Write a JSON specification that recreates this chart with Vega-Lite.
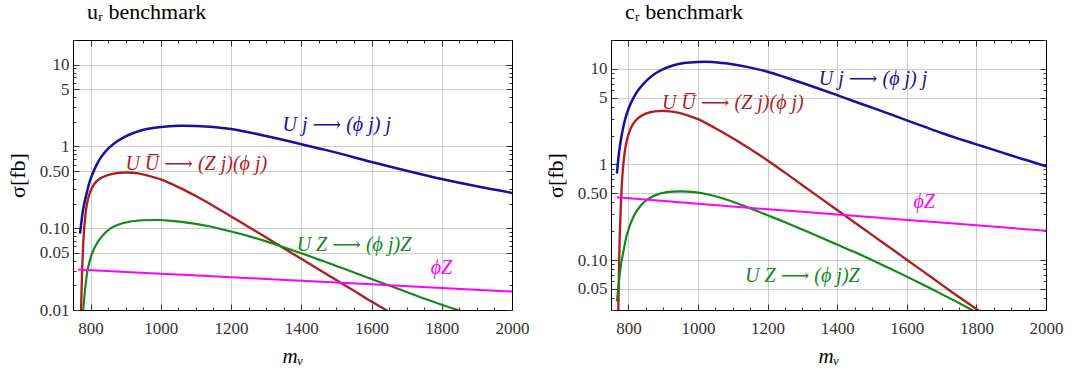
{
  "$schema": "https://vega.github.io/schema/vega-lite/v6.json",
  "padding": {"left": 5, "top": 0, "right": 5, "bottom": 5},
  "background": "white",
  "config": {
    "font": "Liberation Serif, DejaVu Serif, serif",
    "view": {"stroke": "#000", "strokeWidth": 1},
    "axis": {"domainColor": "#000", "tickColor": "#333", "labelColor": "#333", "labelFontSize": 17, "labelFont": "Liberation Serif, DejaVu Serif, serif", "titleFont": "Liberation Serif, DejaVu Serif, serif", "titleColor": "#000", "titleFontWeight": "normal", "gridColor": "#cccccc", "gridWidth": 1, "labelOverlap": false, "labelFlush": false}
  },
  "datasets": {
    "uR": [
      {"m": 770, "sigma": 0.086, "process": "Uj"}, {"m": 775, "sigma": 0.13, "process": "Uj"}, {"m": 780, "sigma": 0.18, "process": "Uj"}, {"m": 790, "sigma": 0.28, "process": "Uj"}, {"m": 800, "sigma": 0.4, "process": "Uj"}, {"m": 815, "sigma": 0.57, "process": "Uj"}, {"m": 830, "sigma": 0.74, "process": "Uj"}, {"m": 850, "sigma": 0.94, "process": "Uj"}, {"m": 875, "sigma": 1.15, "process": "Uj"}, {"m": 900, "sigma": 1.33, "process": "Uj"}, {"m": 930, "sigma": 1.5, "process": "Uj"}, {"m": 960, "sigma": 1.63, "process": "Uj"}, {"m": 1000, "sigma": 1.73, "process": "Uj"}, {"m": 1050, "sigma": 1.79, "process": "Uj"}, {"m": 1100, "sigma": 1.78, "process": "Uj"}, {"m": 1150, "sigma": 1.73, "process": "Uj"}, {"m": 1200, "sigma": 1.63, "process": "Uj"}, {"m": 1250, "sigma": 1.49, "process": "Uj"}, {"m": 1300, "sigma": 1.34, "process": "Uj"}, {"m": 1350, "sigma": 1.2, "process": "Uj"}, {"m": 1400, "sigma": 1.065, "process": "Uj"}, {"m": 1450, "sigma": 0.945, "process": "Uj"}, {"m": 1500, "sigma": 0.84, "process": "Uj"}, {"m": 1600, "sigma": 0.645, "process": "Uj"}, {"m": 1700, "sigma": 0.505, "process": "Uj"}, {"m": 1800, "sigma": 0.4, "process": "Uj"}, {"m": 1900, "sigma": 0.325, "process": "Uj"}, {"m": 2000, "sigma": 0.27, "process": "Uj"},
      {"m": 773, "sigma": 0.01, "process": "UU"}, {"m": 776, "sigma": 0.03, "process": "UU"}, {"m": 780, "sigma": 0.075, "process": "UU"}, {"m": 785, "sigma": 0.14, "process": "UU"}, {"m": 790, "sigma": 0.2, "process": "UU"}, {"m": 798, "sigma": 0.27, "process": "UU"}, {"m": 810, "sigma": 0.345, "process": "UU"}, {"m": 825, "sigma": 0.4, "process": "UU"}, {"m": 845, "sigma": 0.44, "process": "UU"}, {"m": 870, "sigma": 0.468, "process": "UU"}, {"m": 900, "sigma": 0.48, "process": "UU"}, {"m": 930, "sigma": 0.472, "process": "UU"}, {"m": 960, "sigma": 0.443, "process": "UU"}, {"m": 1000, "sigma": 0.395, "process": "UU"}, {"m": 1050, "sigma": 0.318, "process": "UU"}, {"m": 1100, "sigma": 0.247, "process": "UU"}, {"m": 1150, "sigma": 0.187, "process": "UU"}, {"m": 1200, "sigma": 0.1395, "process": "UU"}, {"m": 1250, "sigma": 0.1035, "process": "UU"}, {"m": 1300, "sigma": 0.0768, "process": "UU"}, {"m": 1350, "sigma": 0.0569, "process": "UU"}, {"m": 1400, "sigma": 0.0422, "process": "UU"}, {"m": 1450, "sigma": 0.0313, "process": "UU"}, {"m": 1500, "sigma": 0.0232, "process": "UU"}, {"m": 1550, "sigma": 0.0172, "process": "UU"}, {"m": 1600, "sigma": 0.0127, "process": "UU"}, {"m": 1645, "sigma": 0.0098, "process": "UU"},
      {"m": 779, "sigma": 0.01, "process": "UZ"}, {"m": 782, "sigma": 0.014, "process": "UZ"}, {"m": 786, "sigma": 0.0206, "process": "UZ"}, {"m": 790, "sigma": 0.028, "process": "UZ"}, {"m": 795, "sigma": 0.036, "process": "UZ"}, {"m": 802, "sigma": 0.046, "process": "UZ"}, {"m": 810, "sigma": 0.056, "process": "UZ"}, {"m": 820, "sigma": 0.067, "process": "UZ"}, {"m": 835, "sigma": 0.082, "process": "UZ"}, {"m": 855, "sigma": 0.098, "process": "UZ"}, {"m": 880, "sigma": 0.111, "process": "UZ"}, {"m": 910, "sigma": 0.12, "process": "UZ"}, {"m": 950, "sigma": 0.125, "process": "UZ"}, {"m": 990, "sigma": 0.126, "process": "UZ"}, {"m": 1030, "sigma": 0.123, "process": "UZ"}, {"m": 1080, "sigma": 0.116, "process": "UZ"}, {"m": 1130, "sigma": 0.107, "process": "UZ"}, {"m": 1200, "sigma": 0.091, "process": "UZ"}, {"m": 1250, "sigma": 0.08, "process": "UZ"}, {"m": 1300, "sigma": 0.069, "process": "UZ"}, {"m": 1350, "sigma": 0.0585, "process": "UZ"}, {"m": 1400, "sigma": 0.0493, "process": "UZ"}, {"m": 1450, "sigma": 0.0413, "process": "UZ"}, {"m": 1500, "sigma": 0.0346, "process": "UZ"}, {"m": 1550, "sigma": 0.0288, "process": "UZ"}, {"m": 1600, "sigma": 0.024, "process": "UZ"}, {"m": 1650, "sigma": 0.0199, "process": "UZ"}, {"m": 1700, "sigma": 0.0166, "process": "UZ"}, {"m": 1750, "sigma": 0.0138, "process": "UZ"}, {"m": 1800, "sigma": 0.0116, "process": "UZ"}, {"m": 1855, "sigma": 0.0097, "process": "UZ"},
      {"m": 765, "sigma": 0.0313, "process": "phiZ"}, {"m": 1000, "sigma": 0.0278, "process": "phiZ"}, {"m": 1200, "sigma": 0.0252, "process": "phiZ"}, {"m": 1400, "sigma": 0.0228, "process": "phiZ"}, {"m": 1600, "sigma": 0.0206, "process": "phiZ"}, {"m": 1800, "sigma": 0.0186, "process": "phiZ"}, {"m": 2000, "sigma": 0.0168, "process": "phiZ"}
    ],
    "cR": [
      {"m": 767, "sigma": 0.8, "process": "Uj"}, {"m": 770, "sigma": 1.05, "process": "Uj"}, {"m": 775, "sigma": 1.5, "process": "Uj"}, {"m": 780, "sigma": 1.95, "process": "Uj"}, {"m": 790, "sigma": 2.9, "process": "Uj"}, {"m": 800, "sigma": 3.8, "process": "Uj"}, {"m": 815, "sigma": 5.0, "process": "Uj"}, {"m": 830, "sigma": 6.1, "process": "Uj"}, {"m": 850, "sigma": 7.4, "process": "Uj"}, {"m": 875, "sigma": 8.8, "process": "Uj"}, {"m": 900, "sigma": 9.9, "process": "Uj"}, {"m": 930, "sigma": 10.9, "process": "Uj"}, {"m": 960, "sigma": 11.5, "process": "Uj"}, {"m": 1000, "sigma": 11.8, "process": "Uj"}, {"m": 1040, "sigma": 11.8, "process": "Uj"}, {"m": 1080, "sigma": 11.4, "process": "Uj"}, {"m": 1120, "sigma": 10.8, "process": "Uj"}, {"m": 1160, "sigma": 10.1, "process": "Uj"}, {"m": 1200, "sigma": 9.3, "process": "Uj"}, {"m": 1250, "sigma": 8.15, "process": "Uj"}, {"m": 1300, "sigma": 7.1, "process": "Uj"}, {"m": 1350, "sigma": 6.15, "process": "Uj"}, {"m": 1400, "sigma": 5.3, "process": "Uj"}, {"m": 1450, "sigma": 4.55, "process": "Uj"}, {"m": 1500, "sigma": 3.92, "process": "Uj"}, {"m": 1550, "sigma": 3.37, "process": "Uj"}, {"m": 1600, "sigma": 2.89, "process": "Uj"}, {"m": 1650, "sigma": 2.48, "process": "Uj"}, {"m": 1700, "sigma": 2.13, "process": "Uj"}, {"m": 1750, "sigma": 1.85, "process": "Uj"}, {"m": 1800, "sigma": 1.62, "process": "Uj"}, {"m": 1850, "sigma": 1.42, "process": "Uj"}, {"m": 1900, "sigma": 1.24, "process": "Uj"}, {"m": 1950, "sigma": 1.09, "process": "Uj"}, {"m": 2000, "sigma": 0.957, "process": "Uj"},
      {"m": 771, "sigma": 0.03, "process": "UU"}, {"m": 773, "sigma": 0.08, "process": "UU"}, {"m": 775, "sigma": 0.17, "process": "UU"}, {"m": 778, "sigma": 0.35, "process": "UU"}, {"m": 782, "sigma": 0.7, "process": "UU"}, {"m": 786, "sigma": 1.05, "process": "UU"}, {"m": 792, "sigma": 1.55, "process": "UU"}, {"m": 800, "sigma": 2.05, "process": "UU"}, {"m": 812, "sigma": 2.6, "process": "UU"}, {"m": 828, "sigma": 3.05, "process": "UU"}, {"m": 850, "sigma": 3.4, "process": "UU"}, {"m": 875, "sigma": 3.58, "process": "UU"}, {"m": 905, "sigma": 3.62, "process": "UU"}, {"m": 935, "sigma": 3.52, "process": "UU"}, {"m": 965, "sigma": 3.3, "process": "UU"}, {"m": 1000, "sigma": 2.97, "process": "UU"}, {"m": 1050, "sigma": 2.39, "process": "UU"}, {"m": 1100, "sigma": 1.88, "process": "UU"}, {"m": 1150, "sigma": 1.45, "process": "UU"}, {"m": 1200, "sigma": 1.1, "process": "UU"}, {"m": 1250, "sigma": 0.82, "process": "UU"}, {"m": 1300, "sigma": 0.606, "process": "UU"}, {"m": 1350, "sigma": 0.449, "process": "UU"}, {"m": 1400, "sigma": 0.333, "process": "UU"}, {"m": 1450, "sigma": 0.247, "process": "UU"}, {"m": 1500, "sigma": 0.183, "process": "UU"}, {"m": 1550, "sigma": 0.136, "process": "UU"}, {"m": 1600, "sigma": 0.1006, "process": "UU"}, {"m": 1650, "sigma": 0.0746, "process": "UU"}, {"m": 1700, "sigma": 0.0553, "process": "UU"}, {"m": 1750, "sigma": 0.041, "process": "UU"}, {"m": 1810, "sigma": 0.029, "process": "UU"},
      {"m": 767, "sigma": 0.037, "process": "UZ"}, {"m": 770, "sigma": 0.047, "process": "UZ"}, {"m": 775, "sigma": 0.07, "process": "UZ"}, {"m": 780, "sigma": 0.095, "process": "UZ"}, {"m": 786, "sigma": 0.125, "process": "UZ"}, {"m": 795, "sigma": 0.18, "process": "UZ"}, {"m": 805, "sigma": 0.235, "process": "UZ"}, {"m": 818, "sigma": 0.3, "process": "UZ"}, {"m": 835, "sigma": 0.37, "process": "UZ"}, {"m": 855, "sigma": 0.43, "process": "UZ"}, {"m": 880, "sigma": 0.48, "process": "UZ"}, {"m": 910, "sigma": 0.512, "process": "UZ"}, {"m": 950, "sigma": 0.522, "process": "UZ"}, {"m": 990, "sigma": 0.512, "process": "UZ"}, {"m": 1030, "sigma": 0.485, "process": "UZ"}, {"m": 1070, "sigma": 0.443, "process": "UZ"}, {"m": 1100, "sigma": 0.407, "process": "UZ"}, {"m": 1140, "sigma": 0.358, "process": "UZ"}, {"m": 1200, "sigma": 0.294, "process": "UZ"}, {"m": 1250, "sigma": 0.248, "process": "UZ"}, {"m": 1300, "sigma": 0.208, "process": "UZ"}, {"m": 1350, "sigma": 0.174, "process": "UZ"}, {"m": 1400, "sigma": 0.145, "process": "UZ"}, {"m": 1450, "sigma": 0.121, "process": "UZ"}, {"m": 1500, "sigma": 0.1, "process": "UZ"}, {"m": 1550, "sigma": 0.082, "process": "UZ"}, {"m": 1600, "sigma": 0.067, "process": "UZ"}, {"m": 1650, "sigma": 0.0545, "process": "UZ"}, {"m": 1700, "sigma": 0.044, "process": "UZ"}, {"m": 1750, "sigma": 0.0355, "process": "UZ"}, {"m": 1790, "sigma": 0.0296, "process": "UZ"},
      {"m": 767, "sigma": 0.452, "process": "phiZ"}, {"m": 1000, "sigma": 0.388, "process": "phiZ"}, {"m": 1200, "sigma": 0.34, "process": "phiZ"}, {"m": 1400, "sigma": 0.299, "process": "phiZ"}, {"m": 1600, "sigma": 0.262, "process": "phiZ"}, {"m": 1800, "sigma": 0.231, "process": "phiZ"}, {"m": 2000, "sigma": 0.202, "process": "phiZ"}
    ],
    "uRlab": [
      {"m": 1501, "sigma": 1.84, "label": "U j ⟶ (ϕ j) j", "process": "Uj"},
      {"m": 1101, "sigma": 0.61, "label": "U U̅ ⟶ (Z j)(ϕ j)", "process": "UU"},
      {"m": 1550, "sigma": 0.063, "label": "U Z ⟶ (ϕ j)Z", "process": "UZ"},
      {"m": 1799, "sigma": 0.0325, "label": "ϕZ", "process": "phiZ"}
    ],
    "cRlab": [
      {"m": 1503, "sigma": 7.87, "label": "U j ⟶ (ϕ j) j", "process": "Uj"},
      {"m": 1100, "sigma": 4.42, "label": "U U̅ ⟶ (Z j)(ϕ j)", "process": "UU"},
      {"m": 1300, "sigma": 0.0687, "label": "U Z ⟶ (ϕ j)Z", "process": "UZ"},
      {"m": 1650, "sigma": 0.4, "label": "ϕZ", "process": "phiZ"}
    ]
  },
  "hconcat": [
    {
      "width": 439,
      "height": 270,
      "title": {"text": "uᵣ benchmark", "anchor": "start", "frame": "group", "dx": 14, "offset": 7, "fontSize": 22, "fontWeight": "normal", "font": "Liberation Serif, DejaVu Serif, serif", "color": "#000"},
      "layer": [
        {
          "data": {"name": "uR"},
          "mark": {"type": "line", "clip": true, "interpolate": "catmull-rom"},
          "encoding": {
            "x": {"field": "m", "type": "quantitative", "scale": {"domain": [750, 2000], "nice": false, "zero": false},
              "axis": {"orient": "bottom", "values": [750, 800, 850, 900, 950, 1000, 1050, 1100, 1150, 1200, 1250, 1300, 1350, 1400, 1450, 1500, 1550, 1600, 1650, 1700, 1750, 1800, 1850, 1900, 1950, 2000], "format": "d", "labelExpr": "datum.value % 200 == 0 ? datum.label : ''", "tickSize": {"condition": {"test": "datum.value % 200 == 0", "value": -6}, "value": -3}, "labelPadding": 16, "grid": true, "gridOpacity": {"condition": {"test": "datum.value % 200 == 0", "value": 1}, "value": 0}, "title": "mᵥ", "titleFontSize": 21, "titleFontStyle": "italic", "titlePadding": 6}},
            "y": {"field": "sigma", "type": "quantitative", "scale": {"type": "log", "domain": [0.01, 20], "nice": false},
              "axis": {"orient": "left", "values": [0.01, 0.02, 0.03, 0.04, 0.05, 0.06, 0.07, 0.08, 0.09, 0.1, 0.2, 0.3, 0.4, 0.5, 0.6, 0.7, 0.8, 0.9, 1, 2, 3, 4, 5, 6, 7, 8, 9, 10, 20], "labelExpr": "datum.value == 0.01 ? '0.01' : datum.value == 0.05 ? '0.05' : datum.value == 0.1 ? '0.10' : datum.value == 0.5 ? '0.50' : datum.value == 1 ? '1' : datum.value == 5 ? '5' : datum.value == 10 ? '10' : ''", "tickSize": {"condition": {"test": "indexof([0.01,0.05,0.1,0.5,1,5,10], datum.value) >= 0", "value": -6}, "value": -3}, "labelPadding": 10, "grid": true, "gridOpacity": {"condition": {"test": "indexof([0.01,0.05,0.1,0.5,1,5,10], datum.value) >= 0", "value": 1}, "value": 0}, "title": "σ[fb]", "titleFontSize": 22, "titlePadding": 10}},
            "color": {"field": "process", "type": "nominal", "scale": {"domain": ["Uj", "UU", "UZ", "phiZ"], "range": ["#17109f", "#b01e1e", "#10891a", "#ff00ff"]}, "legend": null},
            "strokeWidth": {"field": "process", "type": "nominal", "scale": {"domain": ["Uj", "UU", "UZ", "phiZ"], "range": [2.5, 2, 2, 2.5]}, "legend": null}
          }
        },
        {
          "data": {"name": "uRlab"},
          "mark": {"type": "text", "fontStyle": "italic", "fontSize": 20, "baseline": "middle", "font": "Liberation Serif, DejaVu Serif, serif"},
          "encoding": {
            "x": {"field": "m", "type": "quantitative", "axis": {"orient": "top", "values": [750, 800, 850, 900, 950, 1000, 1050, 1100, 1150, 1200, 1250, 1300, 1350, 1400, 1450, 1500, 1550, 1600, 1650, 1700, 1750, 1800, 1850, 1900, 1950, 2000], "labels": false, "grid": false, "title": null, "tickSize": {"condition": {"test": "datum.value % 200 == 0", "value": -6}, "value": -3}}},
            "y": {"field": "sigma", "type": "quantitative", "axis": {"orient": "right", "values": [0.01, 0.02, 0.03, 0.04, 0.05, 0.06, 0.07, 0.08, 0.09, 0.1, 0.2, 0.3, 0.4, 0.5, 0.6, 0.7, 0.8, 0.9, 1, 2, 3, 4, 5, 6, 7, 8, 9, 10, 20], "labels": false, "grid": false, "title": null, "tickSize": {"condition": {"test": "indexof([0.01,0.05,0.1,0.5,1,5,10], datum.value) >= 0", "value": -6}, "value": -3}}},
            "text": {"field": "label", "type": "nominal"},
            "color": {"field": "process", "type": "nominal", "legend": null}
          }
        }
      ],
      "resolve": {"axis": {"x": "independent", "y": "independent"}}
    },
    {
      "width": 435,
      "height": 270,
      "title": {"text": "cᵣ benchmark", "anchor": "start", "frame": "group", "dx": 14, "offset": 7, "fontSize": 22, "fontWeight": "normal", "font": "Liberation Serif, DejaVu Serif, serif", "color": "#000"},
      "layer": [
        {
          "data": {"name": "cR"},
          "mark": {"type": "line", "clip": true, "interpolate": "catmull-rom"},
          "encoding": {
            "x": {"field": "m", "type": "quantitative", "scale": {"domain": [750, 2000], "nice": false, "zero": false},
              "axis": {"orient": "bottom", "values": [750, 800, 850, 900, 950, 1000, 1050, 1100, 1150, 1200, 1250, 1300, 1350, 1400, 1450, 1500, 1550, 1600, 1650, 1700, 1750, 1800, 1850, 1900, 1950, 2000], "format": "d", "labelExpr": "datum.value % 200 == 0 ? datum.label : ''", "tickSize": {"condition": {"test": "datum.value % 200 == 0", "value": -6}, "value": -3}, "labelPadding": 16, "grid": true, "gridOpacity": {"condition": {"test": "datum.value % 200 == 0", "value": 1}, "value": 0}, "title": "mᵥ", "titleFontSize": 21, "titleFontStyle": "italic", "titlePadding": 6}},
            "y": {"field": "sigma", "type": "quantitative", "scale": {"type": "log", "domain": [0.03, 20], "nice": false},
              "axis": {"orient": "left", "values": [0.03, 0.04, 0.05, 0.06, 0.07, 0.08, 0.09, 0.1, 0.2, 0.3, 0.4, 0.5, 0.6, 0.7, 0.8, 0.9, 1, 2, 3, 4, 5, 6, 7, 8, 9, 10, 20], "labelExpr": "datum.value == 0.05 ? '0.05' : datum.value == 0.1 ? '0.10' : datum.value == 0.5 ? '0.50' : datum.value == 1 ? '1' : datum.value == 5 ? '5' : datum.value == 10 ? '10' : ''", "tickSize": {"condition": {"test": "indexof([0.05,0.1,0.5,1,5,10], datum.value) >= 0", "value": -6}, "value": -3}, "labelPadding": 10, "grid": true, "gridOpacity": {"condition": {"test": "indexof([0.05,0.1,0.5,1,5,10], datum.value) >= 0", "value": 1}, "value": 0}, "title": "σ[fb]", "titleFontSize": 22, "titlePadding": 10}},
            "color": {"field": "process", "type": "nominal", "scale": {"domain": ["Uj", "UU", "UZ", "phiZ"], "range": ["#17109f", "#b01e1e", "#10891a", "#ff00ff"]}, "legend": null},
            "strokeWidth": {"field": "process", "type": "nominal", "scale": {"domain": ["Uj", "UU", "UZ", "phiZ"], "range": [2.5, 2, 2, 2.5]}, "legend": null}
          }
        },
        {
          "data": {"name": "cRlab"},
          "mark": {"type": "text", "fontStyle": "italic", "fontSize": 20, "baseline": "middle", "font": "Liberation Serif, DejaVu Serif, serif"},
          "encoding": {
            "x": {"field": "m", "type": "quantitative", "axis": {"orient": "top", "values": [750, 800, 850, 900, 950, 1000, 1050, 1100, 1150, 1200, 1250, 1300, 1350, 1400, 1450, 1500, 1550, 1600, 1650, 1700, 1750, 1800, 1850, 1900, 1950, 2000], "labels": false, "grid": false, "title": null, "tickSize": {"condition": {"test": "datum.value % 200 == 0", "value": -6}, "value": -3}}},
            "y": {"field": "sigma", "type": "quantitative", "axis": {"orient": "right", "values": [0.03, 0.04, 0.05, 0.06, 0.07, 0.08, 0.09, 0.1, 0.2, 0.3, 0.4, 0.5, 0.6, 0.7, 0.8, 0.9, 1, 2, 3, 4, 5, 6, 7, 8, 9, 10, 20], "labels": false, "grid": false, "title": null, "tickSize": {"condition": {"test": "indexof([0.05,0.1,0.5,1,5,10], datum.value) >= 0", "value": -6}, "value": -3}}},
            "text": {"field": "label", "type": "nominal"},
            "color": {"field": "process", "type": "nominal", "legend": null}
          }
        }
      ],
      "resolve": {"axis": {"x": "independent", "y": "independent"}}
    }
  ],
  "spacing": 99,
  "bounds": "flush"
}
